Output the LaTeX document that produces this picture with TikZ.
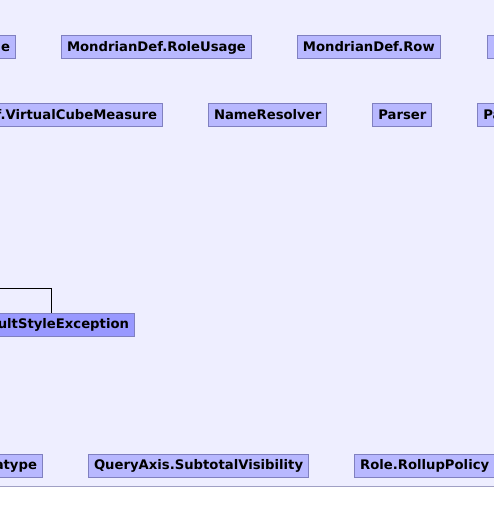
\documentclass[tikz,border=0pt]{standalone}
\usepackage{fontspec}
\setmainfont{DejaVu Sans}
\usepackage{xcolor}
\usetikzlibrary{positioning}
\definecolor{panelbg}{RGB}{238,238,255}
\definecolor{classfill}{RGB}{184,184,255}
\definecolor{classhot}{RGB}{153,153,255}
\definecolor{classline}{RGB}{128,128,192}
\definecolor{panelline}{RGB}{160,160,196}

\begin{document}
\begin{tikzpicture}[
    x=1bp, y=-1bp,
    node distance=45bp,
    every node/.style={font=\fontsize{13.2bp}{15bp}\selectfont\bfseries, inner xsep=5.5bp, inner ysep=0pt,
        minimum height=23bp, text height=9.8bp, text depth=2.6bp},
    cls/.style={rectangle, draw=classline, fill=classfill, line width=1bp},
    hotcls/.style={cls, fill=classhot},
    cut/.style={text width=#1, align=right}
]
    \useasboundingbox (0,0) rectangle (494,522);
    \clip (0,0) rectangle (494,522);
    % panel
    \fill[panelbg] (-5,-5) rectangle (500,486);
    \draw[panelline, line width=1bp] (-5,486) -- (500,486);

    % first row
    \node[cls, cut=60bp, anchor=east] (roleref) at (16,47.5) {le};
    \node[cls, right=of roleref] (roleusage) {MondrianDef.RoleUsage};
    \node[cls, right=of roleusage] (row) {MondrianDef.Row};
    \node[cls, cut=40bp, right=46bp of row] (rownext) {};

    % second row
    \node[cls, cut=170bp, anchor=east] (vcmeasure) at (163,115.5) {f.VirtualCubeMeasure};
    \node[cls, right=of vcmeasure] (resolver) {NameResolver};
    \node[cls, right=of resolver] (parser) {Parser};
    \node[cls, right=of parser] (parsernext) {Pa};

    % exception
    \node[hotcls, cut=160bp, anchor=east] (resultexc) at (135,324.5) {sultStyleException};
    \coordinate (bend) at (51,288);
    \coordinate (superref) at (-10,288);
    \draw[line width=1bp] (resultexc.north -| bend) -- (bend) -- (superref);

    % bottom row
    \node[cls, cut=70bp, anchor=east] (datatype) at (43,465.5) {atype};
    \node[cls, right=of datatype] (subtotal) {QueryAxis.SubtotalVisibility};
    \node[cls, right=of subtotal] (rollup) {Role.RollupPolicy};
\end{tikzpicture}
\end{document}
